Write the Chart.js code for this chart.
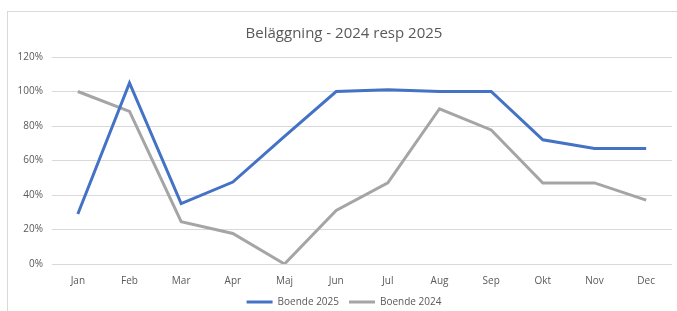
<!DOCTYPE html>
<html>
<head>
<meta charset="utf-8">
<script src="https://cdn.jsdelivr.net/npm/chart.js@4"></script>
<style>
  html, body { margin: 0; padding: 0; background: #fff; overflow: hidden; }
  #wrap { width: 677px; height: 311px; }
</style>
</head>
<body>
<div id="wrap"><canvas id="myChart"></canvas></div>
<script>
const months = ['Jan', 'Feb', 'Mar', 'Apr', 'Maj', 'Jun', 'Jul', 'Aug', 'Sep', 'Okt', 'Nov', 'Dec'];
const boende2025 = [29, 105, 35, 47.5, 74, 100, 101, 100, 100, 72, 67, 67];
const boende2024 = [100, 88.5, 24.5, 17.7, 0, 31, 47, 90, 77.7, 47, 47, 37];
const yTicks = [0, 20, 40, 60, 80, 100, 120];

const textColor = '#595959';
const gridColor = '#D9D9D9';

// thin frame like the chart area in Excel
const frame = {
  id: 'frame',
  beforeDraw(chart) {
    const c = chart.ctx;
    c.save();
    c.fillStyle = '#fff';
    c.fillRect(0, 0, chart.width, chart.height);
    c.strokeStyle = gridColor;
    c.lineWidth = 1;
    c.strokeRect(7.5, 11.5, 800, 400);
    c.restore();
  }
};

const ctx = document.getElementById('myChart');

new Chart(ctx, {
  type: 'line',
  data: {
    labels: months,
    datasets: [{
      label: 'Boende 2025',
      data: boende2025,
      borderColor: '#4472C4',
      backgroundColor: '#4472C4',
      borderWidth: 3,
      pointRadius: 0,
      tension: 0
    }, {
      label: 'Boende 2024',
      data: boende2024,
      borderColor: '#A5A5A5',
      backgroundColor: '#A5A5A5',
      borderWidth: 3,
      pointRadius: 0,
      tension: 0
    }]
  },
  options: {
    responsive: true,
    maintainAspectRatio: false,
    animation: false,
    // left padding pushes title and legend right, as in the original;
    // negative bottom lets the legend sit lower than chart.js would put it
    layout: { padding: { left: 16, right: 5, top: 11, bottom: -6 } },
    plugins: {
      title: {
        display: true,
        text: 'Beläggning - 2024 resp 2025',
        color: textColor,
        font: { family: 'Open Sans', size: 15, weight: 'normal', lineHeight: 1.2 },
        padding: { top: 14, bottom: 14 }
      },
      legend: {
        position: 'bottom',
        labels: {
          color: textColor,
          font: { family: 'Open Sans', size: 10 },
          usePointStyle: true,
          pointStyle: 'line',
          pointStyleWidth: 26,
          padding: 10
        }
      },
      tooltip: { enabled: false }
    },
    scales: {
      x: {
        offset: true,
        grid: { display: false, drawTicks: false },
        border: { display: false },
        afterFit(scale) { scale.height = 23; },
        ticks: {
          color: textColor,
          font: { family: 'Open Sans', size: 10 },
          padding: 11,
          maxRotation: 0
        }
      },
      y: {
        min: 0,
        max: 120,
        afterBuildTicks(scale) {
          scale.ticks = yTicks.map(v => ({ value: v }));
        },
        afterFit(scale) { scale.width = 36; },
        grid: { color: gridColor, lineWidth: 1, drawTicks: false },
        border: { display: false },
        ticks: {
          color: textColor,
          font: { family: 'Open Sans', size: 10 },
          padding: 9,
          callback: v => v + '%'
        }
      }
    }
  },
  plugins: [frame]
});
</script>
</body>
</html>
